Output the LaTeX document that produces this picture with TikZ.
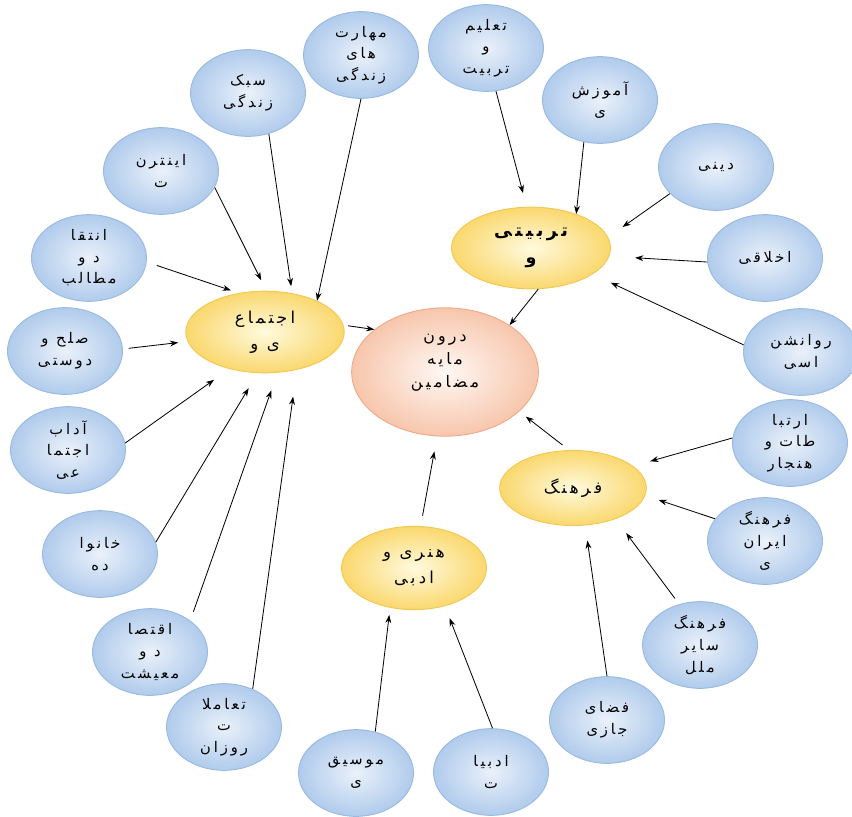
\documentclass[tikz,border=0pt]{standalone}
\usepackage{fontspec}
\usepackage{xcolor}
\usepackage{tikz}
\usetikzlibrary{shapes.geometric, arrows.meta}
\TeXXeTstate=1
\newfontfamily\farsi[Script=Arabic,LetterSpace=20]{DejaVu Sans}
\definecolor{leafin}{RGB}{234,241,250}
\definecolor{leafout}{RGB}{176,203,236}
\definecolor{leafline}{RGB}{155,186,224}
\definecolor{themein}{RGB}{255,250,222}
\definecolor{themeout}{RGB}{250,216,110}
\definecolor{themeline}{RGB}{242,200,85}
\definecolor{corein}{RGB}{255,248,244}
\definecolor{coreout}{RGB}{247,198,172}
\definecolor{coreline}{RGB}{240,170,135}
\tikzstyle{leaf} = [ellipse, minimum width=3.45cm, minimum height=2.6cm, inner sep=0pt, draw=leafline, line width=0.8pt, inner color=leafin, outer color=leafout, align=center, font=\farsi\fontsize{12.5}{18.5}\selectfont]
\tikzstyle{theme} = [ellipse, minimum width=4.75cm, minimum height=2.45cm, inner sep=0pt, draw=themeline, line width=0.8pt, inner color=themein, outer color=themeout, align=center, font=\farsi\fontsize{14}{22}\selectfont]
\tikzstyle{core} = [ellipse, minimum width=5.6cm, minimum height=3.85cm, inner sep=0pt, draw=coreline, line width=0.8pt, inner color=corein, outer color=coreout, align=center, font=\farsi\fontsize{13.5}{19.5}\selectfont]
\tikzstyle{arrow} = [line width=0.7pt, -{Stealth[length=7pt,width=5pt]}]

\begin{document}
\begin{tikzpicture}[x=0.03cm, y=-0.03cm]
\useasboundingbox (0,0) rectangle (852,816);
% main themes
\node (core) at (445,372) [core] {\beginR درون\endR\\\beginR مایه\endR\\\beginR مضامین\endR\\\mbox{}};
\node (ejtemai) at (265,332) [theme] {\beginR اجتماع\endR\\\beginR ی و\endR};
\node (tarbiati) at (531,248) [theme, minimum width=4.77cm, font=\farsi\bfseries\fontsize{15}{23}\selectfont] {\beginR تربیتی\endR\\\beginR و\endR};
\node (farhang) at (573,488) [theme, minimum width=4.4cm, minimum height=2.25cm] {\beginR فرهنگ\endR};
\node (honari) at (414,568) [theme, minimum width=4.35cm, minimum height=2.5cm] {\beginR هنری و\endR\\\beginR ادبی\endR};
% social
\node (maharat) at (361,55) [leaf] {\beginR مهارت\endR\\\beginR های\endR\\\beginR زندگی\endR};
\node (sabk) at (248,93) [leaf] {\beginR سبک\endR\\\beginR زندگی\endR};
\node (internet) at (161,171) [leaf] {\beginR اینترن\endR\\\beginR ت\endR};
\node (enteghad) at (89,258) [leaf] {\beginR انتقا\endR\\\beginR د و\endR\\\beginR مطالب\endR};
\node (solh) at (65,351) [leaf] {\beginR صلح و\endR\\\beginR دوستی\endR};
\node (adab) at (68,450) [leaf] {\beginR آداب\endR\\\beginR اجتما\endR\\\beginR عی\endR};
\node (khanevade) at (100,554) [leaf] {\beginR خانوا\endR\\\beginR ده\endR};
\node (eghtesad) at (150,652) [leaf] {\beginR اقتصا\endR\\\beginR د و\endR\\\beginR معیشت\endR};
\node (taamolat) at (224,727) [leaf] {\beginR تعاملا\endR\\\beginR ت\endR\\\beginR روزان\endR};
% art
\node (musighi) at (356,773) [leaf] {\beginR موسیق\endR\\\beginR ی\endR};
\node (adabiat) at (491,772) [leaf] {\beginR ادبیا\endR\\\beginR ت\endR};
% culture
\node (fazai) at (607,720) [leaf] {\beginR فضای\endR\\\beginR جازی\endR};
\node (sayer) at (700,645) [leaf] {\beginR فرهنگ\endR\\\beginR سایر\endR\\\beginR ملل\endR};
\node (irani) at (765,541) [leaf] {\beginR فرهنگ\endR\\\beginR ایران\endR\\\beginR ی\endR};
\node (ertebatat) at (790,443) [leaf] {\beginR ارتبا\endR\\\beginR طات و\endR\\\beginR هنجار\endR};
% education
\node (ravan) at (801,352) [leaf] {\beginR روانشن\endR\\\beginR اسی\endR};
\node (akhlaghi) at (765,258) [leaf] {\beginR اخلاقی\endR};
\node (dini) at (716,167) [leaf] {\beginR دینی\endR};
\node (amoozesh) at (600,100) [leaf] {\beginR آموزش\endR\\\beginR ی\endR};
\node (talim) at (486,48) [leaf] {\beginR تعلیم\endR\\\beginR و\endR\\\beginR تربیت\endR};
% arrows into the core
\draw[arrow, shorten <=4pt] (ejtemai.5) -- (core.149);
\draw[arrow] (tarbiati.-80) -- (core.36);
\draw[arrow, shorten <=7pt, shorten >=7pt] (farhang.96) -- (core.-28);
\draw[arrow, shorten <=9pt, shorten >=13pt] (honari.81) -- (core.-97);
% arrows into ejtemai
\draw[arrow] (maharat.-90) -- (ejtemai.31);
\draw[arrow, shorten >=6pt] (sabk.-63) -- (ejtemai.55);
\draw[arrow, shorten >=10pt] (internet.-17) -- (ejtemai.88);
\draw[arrow, shorten <=9pt, shorten >=7pt] (enteghad.-4) -- (ejtemai.124);
\draw[arrow, shorten <=5pt, shorten >=8pt] (solh.2) -- (ejtemai.-173);
\draw[arrow, shorten >=16pt] (adab.7) -- (ejtemai.-134);
\draw[arrow, shorten >=15pt] (khanevade.12) -- (ejtemai.-100);
\draw[arrow, shorten <=8pt, shorten >=16pt] (eghtesad.38) -- (ejtemai.-73);
\draw[arrow, shorten >=23pt] (taamolat.53) -- (ejtemai.-50);
% arrows into honari
\draw[arrow, shorten >=6pt] (musighi.65) -- (honari.-121);
\draw[arrow, shorten >=11pt] (adabiat.88) -- (honari.-51);
% arrows into farhang
\draw[arrow, shorten >=13pt] (fazai.90) -- (farhang.-72);
\draw[arrow, shorten <=6pt, shorten >=15pt] (sayer.117) -- (farhang.-36);
\draw[arrow, shorten >=12pt] (irani.156) -- (farhang.-6);
\draw[arrow, shorten >=15pt] (ertebatat.175) -- (farhang.20);
% arrows into tarbiati
\draw[arrow, shorten >=17pt] (ravan.173) -- (tarbiati.-23);
\draw[arrow, shorten >=22pt] (akhlaghi.-176) -- (tarbiati.-6);
\draw[arrow, shorten >=15pt] (dini.-150) -- (tarbiati.8);
\draw[arrow] (amoozesh.-111) -- (tarbiati.37);
\draw[arrow, shorten >=12pt] (talim.-77) -- (tarbiati.96);
\end{tikzpicture}
\end{document}
